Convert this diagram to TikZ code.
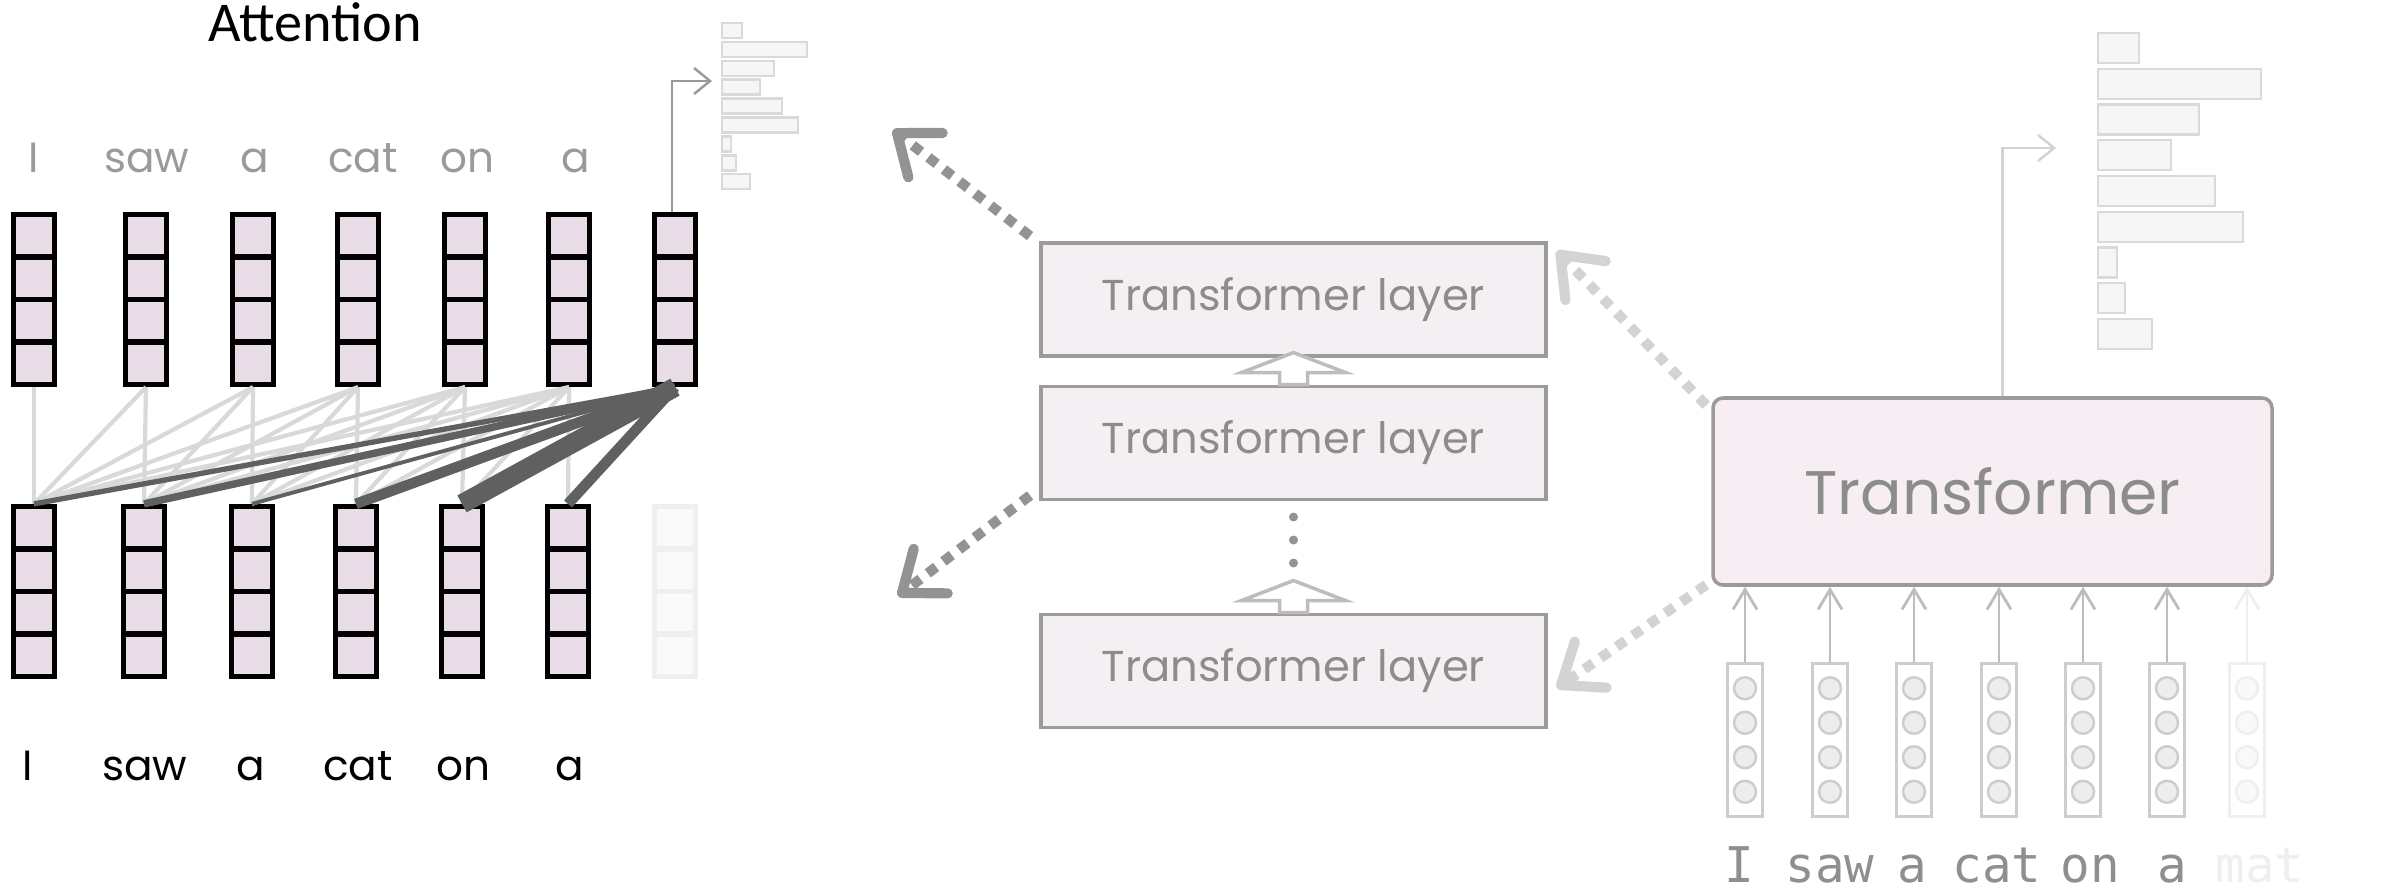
\documentclass[tikz,border=0pt]{standalone}
\usepackage{fontspec}
\setmainfont{Poppins}
\newfontfamily\captionfont{Carlito}
\newfontfamily\inputfont{DejaVu Sans Mono}
\usetikzlibrary{arrows.meta,positioning}

\definecolor{vecfill}{HTML}{E8DDE7}
\definecolor{fadeline}{HTML}{EFEFEF}
\definecolor{fadefill}{HTML}{FAFAFA}
\definecolor{wordgray}{HTML}{9A9A9A}
\definecolor{lightline}{HTML}{D9D9D9}
\definecolor{darkline}{HTML}{606060}
\definecolor{layerfill}{HTML}{F4EFF3}
\definecolor{layerline}{HTML}{9B9B9B}
\definecolor{layertext}{HTML}{8C8C8C}
\definecolor{blockgray}{HTML}{BDBDBD}
\definecolor{dotgray}{HTML}{939393}
\definecolor{palegray}{HTML}{D3D3D3}
\definecolor{barfill}{HTML}{F6F6F6}
\definecolor{barline}{HTML}{DADADA}
\definecolor{trfill}{HTML}{F6EEF3}
\definecolor{embline}{HTML}{CDCDCD}
\definecolor{inputgray}{HTML}{8F8F8F}

\tikzset{
    upblock/.pic={
        \draw[line width=1pt, draw=blockgray, fill=white] (-0.14,0) -- (-0.14,0.12) -- (-0.52,0.12) -- (0,0.32) -- (0.52,0.12) -- (0.14,0.12) -- (0.14,0) -- cycle;
    }
}

\begin{document}
\begin{tikzpicture}[
    vec/.style={draw=#1, fill=vecfill, line width=1.5pt, minimum width=0.41cm, minimum height=1.7cm, inner sep=0pt,
        path picture={\foreach \k in {1,2,3}
            \draw[#1, line width=1.5pt] ([yshift=\k*0.425cm]path picture bounding box.south west) -- ([yshift=\k*0.425cm]path picture bounding box.south east);}},
    vec/.default=black,
    emb/.style={draw=#1, fill=white, line width=0.8pt, minimum width=0.35cm, minimum height=1.53cm, inner sep=0pt,
        path picture={\foreach \k in {-1.5,-0.5,0.5,1.5}
            \draw[#1, fill=#1!35, line width=0.7pt] ([yshift=\k*0.345cm]path picture bounding box.center) circle (0.11cm);}},
    emb/.default=embline,
    topword/.style={text=wordgray, anchor=base, font=\fontsize{12}{14}\selectfont},
    lowword/.style={text=black, anchor=base, font=\fontsize{12}{14}\selectfont},
    layer/.style={draw=layerline, fill=layerfill, line width=1.1pt, minimum width=5.05cm, minimum height=1.13cm, text=layertext, font=\fontsize{12.3}{14}\selectfont},
    tblock/.style={draw=layerline, fill=trfill, line width=1pt, rounded corners=0.1cm, minimum width=5.59cm, minimum height=1.87cm, text=layertext, font=\fontsize{17.5}{20}\selectfont},
    inword/.style={text=inputgray, anchor=base, font=\inputfont\fontsize{14}{16}\selectfont},
    attlight/.style={draw=lightline, line width=1.2pt},
    attdark/.style={draw=darkline},
    bar/.style={draw=barline, fill=barfill, line width=0.7pt},
    histarrow/.style={-{Straight Barb[length=1.6mm,width=2.6mm]}, line width=0.7pt},
    inarrow/.style={-{Straight Barb[length=2mm,width=2.4mm]}, draw=blockgray, line width=0.8pt},
    dotarrow/.style={line width=2.9pt, dash pattern=on 3pt off 2.6pt, -{Straight Barb[length=3.6mm,width=5.6mm,round]}}
]
\useasboundingbox (0,0) rectangle (24.07,8.91);

\node[font=\captionfont\fontsize{16}{19}\selectfont, anchor=base] (title) at (3.15,8.49) {Attention};

\node[topword] (w1) at (0.34,7.19) {I};
\node[topword] (w2) at (1.47,7.19) {saw};
\node[topword] (w3) at (2.55,7.19) {a};
\node[topword] (w4) at (3.63,7.19) {cat};
\node[topword] (w5) at (4.67,7.19) {on};
\node[topword] (w6) at (5.76,7.19) {a};

\foreach \x [count=\n] in {0.34,1.46,2.53,3.58,4.65,5.69,6.75}
    \node[vec] (t\n) at (\x,5.915) {};
\foreach \x [count=\n] in {0.34,1.44,2.52,3.56,4.62,5.68}
    \node[vec] (b\n) at (\x,2.995) {};
\node[vec=fadeline, fill=fadefill] (b7) at (6.75,2.995) {};

\foreach \j in {1,...,6}
    \foreach \i in {1,...,\j}
        \draw[attlight] (t\j.south) -- (b\i.north);
\foreach \i/\w in {1/1.5,2/2.1,3/1.1,4/3,5/5.5,6/3}
    \draw[attdark, line width=\w pt] (t7.south) -- (b\i.north);

\node[lowword] (u1) at (0.28,1.11) {I};
\node[lowword] (u2) at (1.45,1.11) {saw};
\node[lowword] (u3) at (2.51,1.11) {a};
\node[lowword] (u4) at (3.58,1.11) {cat};
\node[lowword] (u5) at (4.63,1.11) {on};
\node[lowword] (u6) at (5.70,1.11) {a};

\foreach \w [count=\k from 0] in {0.2,0.85,0.52,0.38,0.6,0.76,0.09,0.14,0.28}
    \draw[bar] (7.22,8.68-0.189*\k) rectangle ++(\w,-0.15);
\coordinate (lh) at (7.12,8.10);
\draw[histarrow, draw=wordgray] ([xshift=-0.03cm]t7.north) |- (lh);

\node[layer] (l1) at (12.935,5.915) {Transformer layer};
\node[layer] (l2) at (12.935,4.48) {Transformer layer};
\node[layer] (l3) at (12.935,2.20) {Transformer layer};
\pic at (l2.north) {upblock};
\pic at (l3.north) {upblock};
\foreach \y in {3.74,3.51,3.28}
    \fill[dotgray] (12.935,\y) circle (0.045);

\coordinate (da1) at (8.93,7.61);
\coordinate (da2) at (8.98,2.95);
\draw[dotarrow, draw=dotgray] ([shift={(-0.09,0.05)}]l1.north west) -- (da1);
\draw[dotarrow, draw=dotgray] ([shift={(-0.09,0.06)}]l2.south west) -- (da2);

\node[tblock] (tr) at (19.925,3.995) {Transformer};
\draw[dotarrow, draw=palegray] ([shift={(-0.05,-0.09)}]tr.north west) -- ([shift={(0.09,-0.10)}]l1.north east);
\draw[dotarrow, draw=palegray] ([shift={(-0.05,0.02)}]tr.south west) -- ([shift={(0.09,-0.17)}]l3.east);

\foreach \w [count=\k from 0] in {0.41,1.63,1.01,0.73,1.17,1.45,0.19,0.27,0.54}
    \draw[bar] (20.98,8.58-0.3575*\k) rectangle ++(\w,-0.30);
\coordinate (rh) at (20.56,7.43);
\draw[histarrow, draw=palegray] ([xshift=0.1cm]tr.north) |- (rh);

\foreach \x [count=\n] in {17.45,18.30,19.14,19.99,20.83,21.67} {
    \node[emb] (v\n) at (\x,1.51) {};
    \draw[inarrow] (v\n.north) -- (v\n.north |- tr.south);
}
\node[emb=fadeline] (v7) at (22.47,1.51) {};
\draw[inarrow, draw=fadeline] (v7.north) -- (v7.north |- tr.south);

\node[inword] (iw1) at (17.39,0.09) {I};
\node[inword] (iw2) at (18.30,0.09) {saw};
\node[inword] (iw3) at (19.12,0.09) {a};
\node[inword] (iw4) at (19.97,0.09) {cat};
\node[inword] (iw5) at (20.90,0.09) {on};
\node[inword] (iw6) at (21.72,0.09) {a};
\node[inword, text=fadeline] (iw7) at (22.60,0.09) {mat};

\end{tikzpicture}
\end{document}
